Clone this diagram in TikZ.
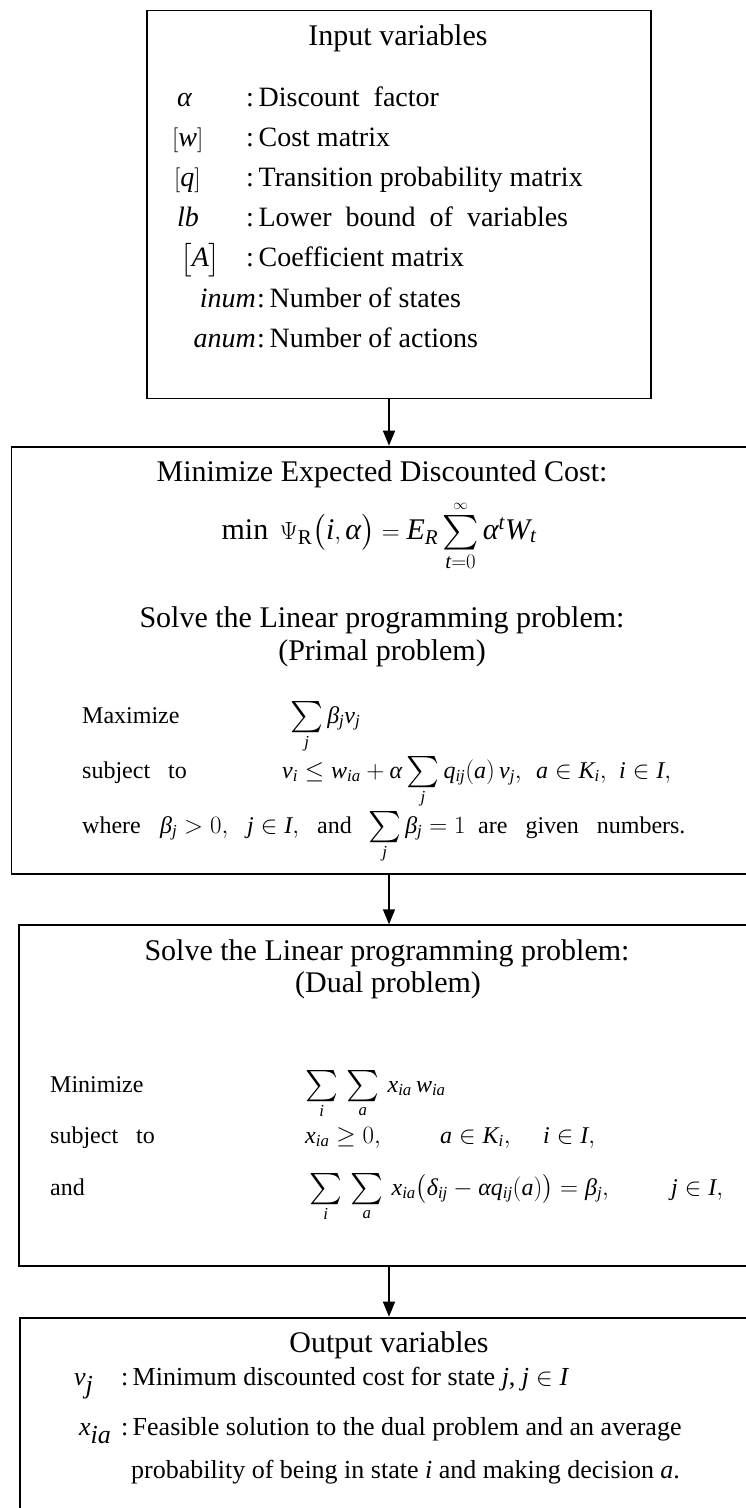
\documentclass[tikz,border=0pt]{standalone}
\usepackage{amsmath, amssymb}
\usepackage{fontspec}
\setmainfont{Liberation Serif}
\usepackage{tikz}
\usetikzlibrary{arrows.meta, positioning, calc}

% Times-like letters in math
\DeclareSymbolFont{lsit}{TU}{\rmdefault}{m}{it}
\DeclareSymbolFont{lsup}{TU}{\rmdefault}{m}{n}
\makeatletter
\count@=`a \loop \Umathcode\count@="7 \symlsit \count@ \ifnum\count@<`z \advance\count@ by 1 \repeat
\count@=`A \loop \Umathcode\count@="7 \symlsit \count@ \ifnum\count@<`Z \advance\count@ by 1 \repeat
\count@=`0 \loop \Umathcode\count@="0 \symlsup \count@ \ifnum\count@<`9 \advance\count@ by 1 \repeat
\makeatother
\Umathchardef\alpha="7 \symlsit "03B1
\Umathchardef\beta="7 \symlsit "03B2
\Umathchardef\delta="7 \symlsit "03B4
\Umathchardef\Psi="0 \symlsup "03A8

\newcommand{\fhead}{\fontsize{30}{36}\selectfont}
\newcommand{\fitem}{\fontsize{28}{34}\selectfont}
\newcommand{\flp}{\fontsize{24}{29}\selectfont}
\newcommand{\fout}{\fontsize{26}{31}\selectfont}
\newcommand{\bigsum}[1][1.3]{\mathop{\vcenter{\hbox{\scalebox{#1}{$\sum$}}}}\limits}

\tikzset{
  stagebox/.style={draw, line width=1.8pt, anchor=north west, inner sep=0pt},
  flowarrow/.style={line width=1.4pt, -{Triangle[width=12pt,length=15pt]}},
  lbl/.style={inner sep=0pt, anchor=base west},
  ctr/.style={inner sep=0pt, anchor=base}
}

\begin{document}
\begin{tikzpicture}[x=1pt, y=-1pt]
\useasboundingbox (0,0) rectangle (746,1508);
\clip (0,0) rectangle (746,1508);

% the four stages
\node[stagebox, minimum width=504pt, minimum height=388pt] (input) at (146,9.5) {};
\node[stagebox, minimum width=780pt, minimum height=427.5pt] (primal) at (10.5,445.7) {};
\node[stagebox, minimum width=780pt, minimum height=341pt] (dual) at (18,924.3) {};
\node[stagebox, minimum width=780pt, minimum height=260pt] (output) at (19,1316.7) {};

\coordinate (ax) at (389,0);
\draw[flowarrow] (input.south -| ax) -- (primal.north -| ax);
\draw[flowarrow] (primal.south -| ax) -- (dual.north -| ax);
\draw[flowarrow] (dual.south -| ax) -- (output.north -| ax);

% input variables
\node[ctr] (intitle) at (398,45) {\fhead Input variables};
\node[lbl] (s1) at (177,106) {\fitem $\alpha$};
\node[lbl] (s2) at (172,146) {\fitem $[w]$};
\node[lbl] (s3) at (174,186) {\fitem $[q]$};
\node[lbl] (s4) at (177,226) {\fitem $lb$};
\node[lbl] (s5) at (180,266) {\fitem $\big[A\big]$};
\node[lbl, anchor=base east] (s6) at (256,307) {\fitem $inum$};
\node[lbl, anchor=base east] (s7) at (256,347) {\fitem $anum$};
\node[lbl] (d1) at (246,106) {\fitem :\,Discount\ \ factor};
\node[lbl] (d2) at (246,146) {\fitem :\,Cost matrix};
\node[lbl] (d3) at (246,186) {\fitem :\,Transition probability matrix};
\node[lbl] (d4) at (246,226) {\fitem :\,Lower\ \ bound\ \ of\ \ variables};
\node[lbl] (d5) at (246,266) {\fitem :\,Coefficient matrix};
\node[lbl] (d6) at (257,307) {\fitem :\,Number of states};
\node[lbl] (d7) at (257,347) {\fitem :\,Number of actions};

% primal problem
\node[ctr] (ptitle) at (382,481) {\fhead Minimize Expected Discounted Cost:};
\node[ctr] (pobj) at (379,539) {\fhead $\min\ \Psi_{\mathrm{R}}\bigl(i,\alpha\bigr) = E_R\bigsum[1.15]_{t=0}^{\scriptscriptstyle\infty}\alpha^t W_t$};
\node[ctr] (psolve) at (382,627) {\fhead Solve the Linear programming problem:};
\node[ctr] (pname) at (382,660) {\fhead (Primal problem)};
\node[lbl] (pmax) at (82,723) {\flp Maximize};
\node[lbl] (pmaxf) at (290,723) {\flp $\bigsum_j \beta_j v_j$};
\node[lbl] (psub) at (82,778) {\flp subject\ \ \ to};
\node[lbl] (psubf) at (282,778) {\flp $v_i \le w_{ia} + \alpha\bigsum_j q_{ij}(a)\,v_j,$};
\node[lbl] (psubk) at (536,778) {\flp $a\in K_i,$};
\node[lbl] (psubi) at (619,778) {\flp $i\in I,$};
\node[lbl] (pwhere) at (82,833) {\flp where};
\node[lbl] (pw1) at (160,833) {\flp $\beta_j > 0,$};
\node[lbl] (pw2) at (247,833) {\flp $j\in I,$};
\node[lbl] (pw3) at (317,833) {\flp and};
\node[lbl] (pw4) at (368,833) {\flp $\bigsum_j \beta_j = 1$};
\node[lbl] (pw5) at (478,833) {\flp are\ \ \ given\ \ \ numbers.};

% dual problem
\node[ctr] (dsolve) at (387,960) {\fhead Solve the Linear programming problem:};
\node[ctr] (dname) at (388,992) {\fhead (Dual problem)};
\node[lbl] (dmin) at (50,1092) {\flp Minimize};
\node[lbl] (dminf) at (305,1092) {\flp $\bigsum_i\,\bigsum_a\, x_{ia}\,w_{ia}$};
\node[lbl] (dsub) at (50,1143) {\flp subject\ \ \ to};
\node[lbl] (dsubf) at (305,1143) {\flp $x_{ia}\ge 0,$};
\node[lbl] (dsubk) at (440,1143) {\flp $a\in K_i,$};
\node[lbl] (dsubi) at (543,1143) {\flp $i\in I,$};
\node[lbl] (dand) at (50,1195) {\flp and};
\node[lbl] (dandf) at (309,1195) {\flp $\bigsum_i\,\bigsum_a\, x_{ia}\bigl(\delta_{ij}-\alpha q_{ij}(a)\bigr) = \beta_j,$};
\node[lbl] (dandj) at (671,1195) {\flp $j\in I,$};

% output variables
\node[ctr] (otitle) at (389,1352) {\fhead Output variables};
\node[lbl] (o1) at (74,1385) {\fout $v_{\mbox{$j$}}$};
\node[lbl] (o1d) at (121,1385) {\fout :\,Minimum discounted cost for state $j$, $j\in I$};
\node[lbl] (o2) at (79,1435) {\fout $x_{\mbox{$ia$}}$};
\node[lbl] (o2d) at (121,1435) {\fout :\,Feasible solution to the dual problem and an average};
\node[lbl] (o3) at (131,1478) {\fout probability of being in state $i$ and making decision $a$.};
\end{tikzpicture}
\end{document}
